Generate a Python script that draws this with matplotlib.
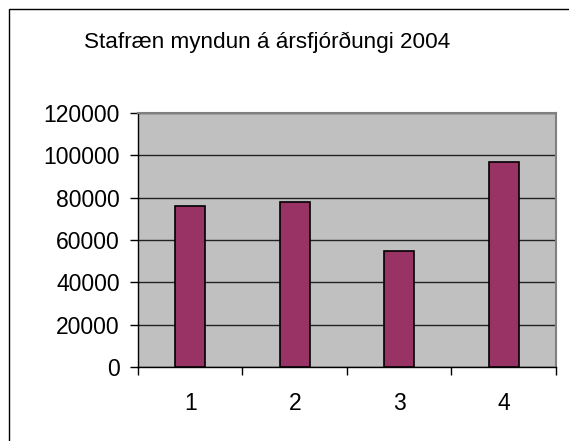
import numpy as np
import matplotlib
matplotlib.use("Agg")
import matplotlib.pyplot as plt
from matplotlib.patches import Rectangle

plt.rcParams["font.family"] = ["Liberation Sans", "DejaVu Sans"]

quarters = ["1", "2", "3", "4"]
values = [76000, 78000, 55000, 97000]
yticks = [0, 20000, 40000, 60000, 80000, 100000, 120000]
title = "Stafræn myndun á ársfjórðungi 2004"

fig = plt.figure(figsize=(5.69, 4.41), dpi=100)
# outer chart frame (only top/left visible in the original)
fig.patches.append(Rectangle((9 / 569, -0.1), 1.2, 1 - 9 / 441 + 0.1,
                             transform=fig.transFigure, fill=False,
                             edgecolor="black", linewidth=1))

ax = fig.add_axes([0.2425, 0.1678, 0.977 - 0.2425, 0.7438 - 0.1678])
ax.set_facecolor("#C0C0C0")

inds = np.arange(len(quarters))
ax.bar(inds, values, 0.29, color="#993366", edgecolor="black", linewidth=1.2, zorder=3)

ax.set_xlim(-0.5, len(quarters) - 0.5)
ax.set_ylim(0, 120000)
ax.set_yticks(yticks)
ax.set_yticklabels([str(v) for v in yticks], fontsize=16.5)
ax.yaxis.grid(True, color="#222222", linewidth=1)
ax.set_axisbelow(True)

ax.set_xticks(inds)
ax.set_xticklabels(quarters, fontsize=16.5)
ax.tick_params(axis="x", which="major", length=0, pad=18)
ax.set_xticks(np.arange(len(quarters) + 1) - 0.5, minor=True)
ax.tick_params(axis="x", which="minor", length=6, width=1, direction="out")
ax.tick_params(axis="y", length=6, width=1, direction="out", pad=7)

for s in ["top", "right"]:
    ax.spines[s].set_color("#808080")
    ax.spines[s].set_linewidth(1.5)
for s in ["left", "bottom"]:
    ax.spines[s].set_color("black")
    ax.spines[s].set_linewidth(1)

fig.text(0.47, 0.905, title, ha="center", va="center", fontsize=16.2)

fig.savefig("out.png", dpi=100)
